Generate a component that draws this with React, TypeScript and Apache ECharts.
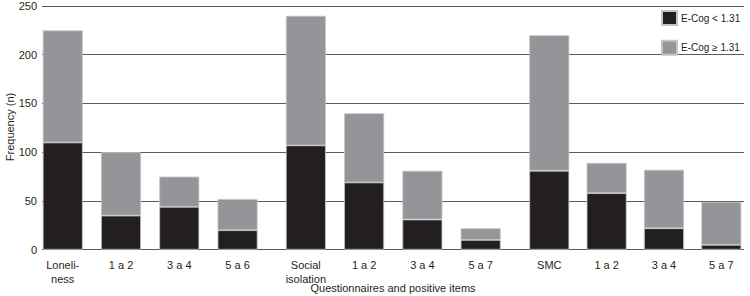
import React, { useEffect, useRef } from "react";
import * as echarts from "echarts";

const categories = [
  "Loneli-\nness", "1 a 2", "3 a 4", "5 a 6",
  "Social\nisolation", "1 a 2", "3 a 4", "5 a 7",
  "SMC", "1 a 2", "3 a 4", "5 a 7",
];
const lowValues = [110, 35, 44, 20, 107, 69, 31, 10, 81, 58, 22, 5];
const highValues = [115, 65, 31, 32, 133, 71, 50, 12, 139, 31, 60, 44];
const yTicks = [0, 50, 100, 150, 200, 250];
const seriesNames = ["E-Cog < 1.31", "E-Cog \u2265 1.31"];

const FONT = "'Liberation Sans', Arial, sans-serif";
const TXT = "#231f20";
const DARK = "#231f20";
const GRAY = "#939598";

export default function App() {
  const ref = useRef<HTMLDivElement>(null);
  useEffect(() => {
    if (!ref.current) return;
    const chart = echarts.init(ref.current, null, { renderer: "svg" });
    const top = 6;
    const bottom = 46.3;
    const groupLefts = [33.6, 276.7, 520.6];
    const groupWidth = 233.1;
    const grids: any[] = [{ left: 42, right: 6, top, bottom }];
    groupLefts.forEach((l) => grids.push({ left: l, width: groupWidth, top, bottom }));

    const xAxes: any[] = [
      { gridIndex: 0, type: "category", data: ["a"], show: false },
    ];
    const yAxes: any[] = [
      {
        gridIndex: 0,
        type: "value",
        min: yTicks[0],
        max: yTicks[yTicks.length - 1],
        interval: yTicks[1] - yTicks[0],
        axisLine: { show: false },
        axisTick: { show: false },
        axisLabel: { color: TXT, fontSize: 11, fontFamily: FONT, margin: 5 },
        splitLine: { show: true, lineStyle: { color: "#5a5a5a", width: 1 } },
      },
    ];
    const series: any[] = [];
    for (let g = 0; g < 3; g++) {
      const cats = categories.slice(g * 4, g * 4 + 4);
      xAxes.push({
        gridIndex: g + 1,
        type: "category",
        data: cats,
        axisLine: { show: false },
        axisTick: { show: false },
        axisLabel: {
          color: TXT,
          fontSize: 11,
          fontFamily: FONT,
          margin: 8,
          lineHeight: 14,
          interval: 0,
        },
      });
      yAxes.push({
        gridIndex: g + 1,
        type: "value",
        min: yTicks[0],
        max: yTicks[yTicks.length - 1],
        interval: yTicks[1] - yTicks[0],
        show: false,
        splitLine: { show: false },
      });
      series.push({
        name: seriesNames[0],
        type: "bar",
        xAxisIndex: g + 1,
        yAxisIndex: g + 1,
        stack: "s" + g,
        barWidth: 40,
        data: lowValues.slice(g * 4, g * 4 + 4),
        itemStyle: { color: DARK, borderColor: "#c4c4c4", borderWidth: 0.8 },
      });
      series.push({
        name: seriesNames[1],
        type: "bar",
        xAxisIndex: g + 1,
        yAxisIndex: g + 1,
        stack: "s" + g,
        barWidth: 40,
        data: highValues.slice(g * 4, g * 4 + 4),
        itemStyle: { color: GRAY, borderColor: "#c4c4c4", borderWidth: 0.8 },
      });
    }

    chart.setOption({
      animation: false,
      backgroundColor: "#ffffff",
      grid: grids,
      xAxis: xAxes,
      yAxis: yAxes,
      series,
      legend: {
        data: seriesNames.map((n) => ({ name: n, icon: "rect" })),
        orient: "vertical",
        left: 661,
        top: 10,
        itemWidth: 15,
        itemHeight: 14,
        itemGap: 13.7,
        padding: 0,
        textStyle: { color: TXT, fontSize: 10, fontFamily: FONT, padding: [0, 0, 0, -1] },
        selectedMode: false,
      },
      graphic: [
        {
          type: "text",
          x: 10,
          y: 127,
          rotation: Math.PI / 2,
          style: {
            text: "Frequency (n)",
            fill: TXT,
            fontSize: 11,
            fontFamily: FONT,
            textAlign: "center",
            textVerticalAlign: "middle",
          },
        },
        {
          type: "text",
          x: 393,
          y: 288,
          style: {
            text: "Questionnaires and positive items",
            fill: TXT,
            fontSize: 11,
            fontFamily: FONT,
            textAlign: "center",
            textVerticalAlign: "middle",
          },
        },
      ],
    });
    return () => chart.dispose();
  }, []);
  return (
    <div
      ref={ref}
      style={{ position: "absolute", left: 0, top: 0, width: 750, height: 296 }}
    />
  );
}
